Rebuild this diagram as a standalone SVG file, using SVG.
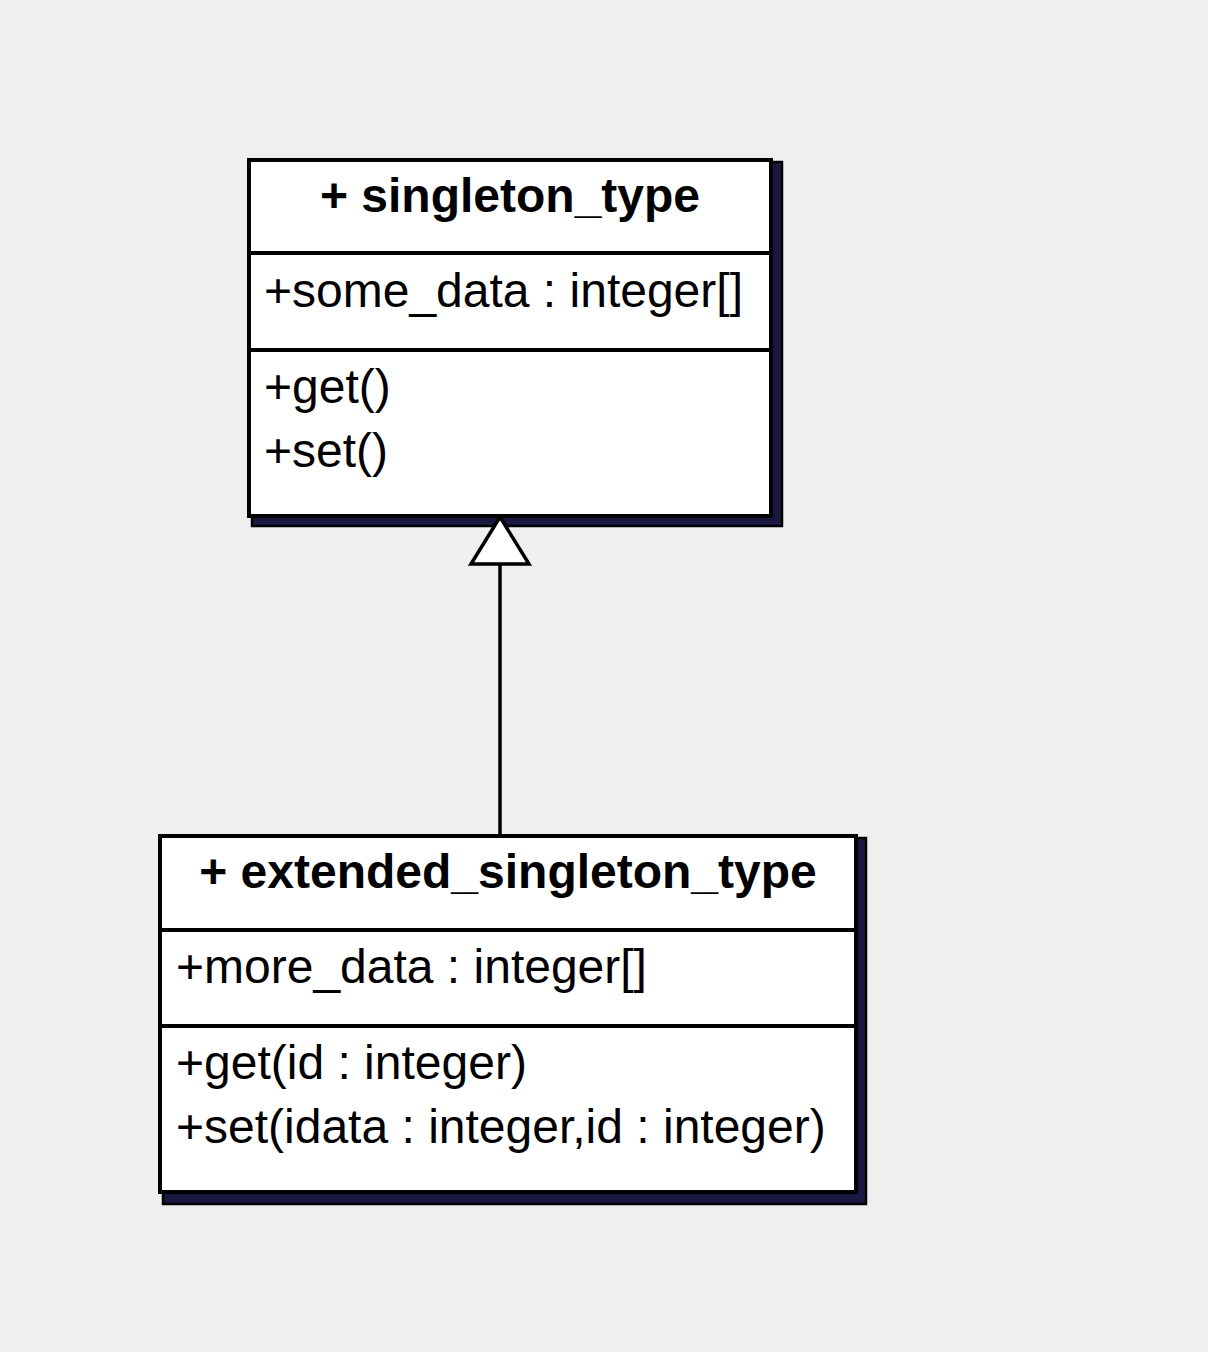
<svg xmlns="http://www.w3.org/2000/svg" width="1208" height="1352" viewBox="0 0 1208 1352">
<style>
.bg{fill:#efefef}
.shadow{fill:#1a1840;stroke:#000;stroke-width:2.5}
.box{fill:#fff;stroke:#000;stroke-width:4}
.div{stroke:#000;stroke-width:4}
.title{font-family:"Liberation Sans",Arial,sans-serif;font-size:48px;font-weight:bold;fill:#000;text-anchor:middle}
.txt{font-family:"Liberation Sans",Arial,sans-serif;font-size:48px;fill:#000}
.edge{stroke:#000;stroke-width:3.5;fill:none}
.head{fill:#fff;stroke:#000;stroke-width:3.5;stroke-linejoin:miter}
</style>
<rect class="bg" x="0" y="0" width="1208" height="1352"/>
<g id="singleton_type">
<rect class="shadow" x="252" y="162" width="530" height="364"/>
<rect class="box" x="249" y="160" width="522" height="356"/>
<line class="div" x1="249" y1="253" x2="771" y2="253"/>
<line class="div" x1="249" y1="350" x2="771" y2="350"/>
<text class="title" x="510" y="212">+ singleton_type</text>
<text class="txt" x="264" y="307">+some_data : integer[]</text>
<text class="txt" x="264" y="403">+get()</text>
<text class="txt" x="264" y="467">+set()</text>
</g>
<g id="extended_singleton_type">
<rect class="shadow" x="163" y="838" width="703" height="366"/>
<rect class="box" x="160" y="836" width="696" height="356"/>
<line class="div" x1="160" y1="930" x2="856" y2="930"/>
<line class="div" x1="160" y1="1026" x2="856" y2="1026"/>
<text class="title" x="508" y="888">+ extended_singleton_type</text>
<text class="txt" x="176" y="983">+more_data : integer[]</text>
<text class="txt" x="176" y="1079">+get(id : integer)</text>
<text class="txt" x="176" y="1143">+set(idata : integer,id : integer)</text>
</g>
<g id="connectors">
<line class="edge" x1="500" y1="834" x2="500" y2="564"/>
<polygon class="head" points="500,517 471,564 529,564"/>
</g>
</svg>
